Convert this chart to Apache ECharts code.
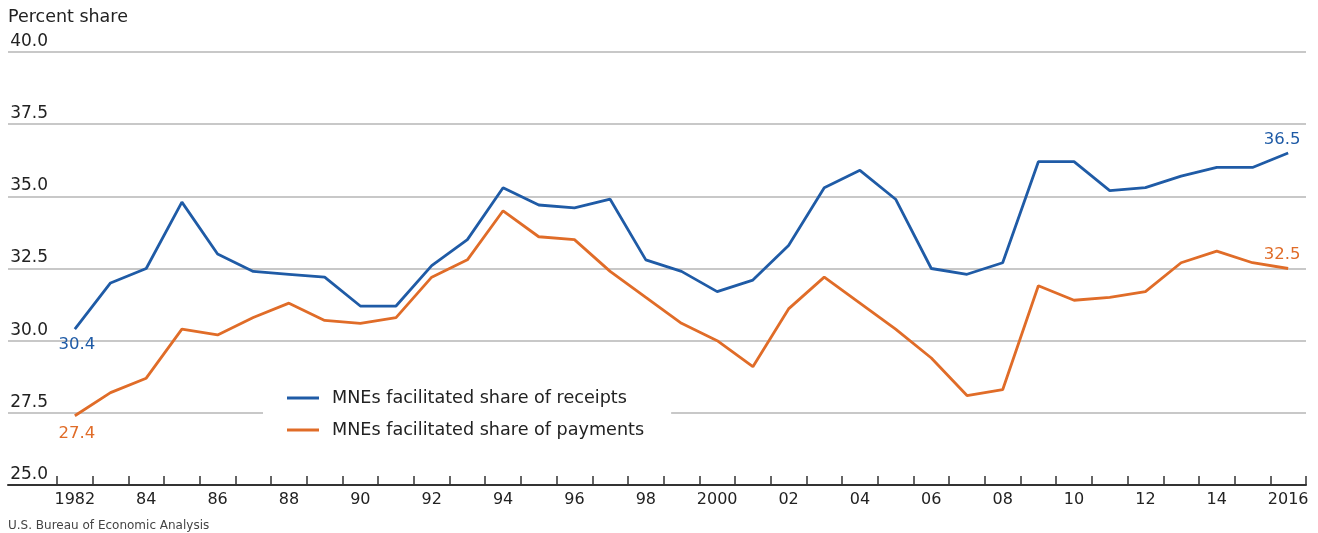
<!DOCTYPE html>
<html>
<head>
<meta charset="utf-8">
<script src="https://cdn.jsdelivr.net/npm/echarts@6/dist/echarts.min.js"></script>
<style>
html,body{margin:0;padding:0;background:#fff;}
#c{width:1318px;height:533px;}
</style>
</head>
<body>
<div id="c"></div>
<script>
const years = [1982,1983,1984,1985,1986,1987,1988,1989,1990,1991,1992,1993,1994,1995,1996,1997,1998,1999,2000,2001,2002,2003,2004,2005,2006,2007,2008,2009,2010,2011,2012,2013,2014,2015,2016];
const receipts = [30.4,32.0,32.5,34.8,33.0,32.4,32.3,32.2,31.2,31.2,32.6,33.5,35.3,34.7,34.6,34.9,32.8,32.4,31.7,32.1,33.3,35.3,35.9,34.9,32.5,32.3,32.7,36.2,36.2,35.2,35.3,35.7,36.0,36.0,36.5];
const payments = [27.4,28.2,28.7,30.4,30.2,30.8,31.3,30.7,30.6,30.8,32.2,32.8,34.5,33.6,33.5,32.4,31.5,30.6,30.0,29.1,31.1,32.2,31.3,30.4,29.4,28.1,28.3,31.9,31.4,31.5,31.7,32.7,33.1,32.7,32.5];
const seriesNames = ['MNEs facilitated share of receipts','MNEs facilitated share of payments'];
const yTicks = [25, 40, 2.5];

const FONT = 'DejaVu Sans';
const BLUE = '#1f5ba6';
const ORANGE = '#e06c28';

function withEndLabels(arr, color, firstOff, lastOff) {
  return arr.map((v, i) => {
    if (i === 0 || i === arr.length - 1) {
      const first = i === 0;
      return {
        value: v,
        label: {
          show: true,
          formatter: v.toFixed(1),
          position: first ? 'bottom' : 'top',
          offset: first ? firstOff : lastOff,
          color: color,
          fontFamily: FONT,
          fontSize: 16.5
        }
      };
    }
    return v;
  });
}

const chart = echarts.init(document.getElementById('c'));
chart.setOption({
  animation: false,
  backgroundColor: '#fff',
  title: [
    {text: 'Percent share', left: 3, top: 3, textStyle: {fontFamily: FONT, fontSize: 17.5, fontWeight: 'normal', color: '#222'}},
    {text: 'U.S. Bureau of Economic Analysis', left: 3, top: 515, textStyle: {fontFamily: FONT, fontSize: 12, fontWeight: 'normal', color: '#444'}}
  ],
  legend: {
    orient: 'vertical',
    left: 263,
    top: 381,
    backgroundColor: '#fff',
    padding: [8, 27, 8, 24],
    itemGap: 14,
    itemWidth: 32,
    itemHeight: 3,
    icon: 'rect',
    textStyle: {fontFamily: FONT, fontSize: 17.6, color: '#222', padding: [0, 0, 0, 8]},
    data: seriesNames
  },
  grid: [
    {left: 8, right: 12, top: 52, bottom: 48},
    {left: 57, right: 12, top: 52, bottom: 48}
  ],
  xAxis: [
    {
      gridIndex: 0, type: 'value', min: 0, max: 1,
      axisLine: {show: true, lineStyle: {color: '#333', width: 2}},
      axisTick: {show: false}, axisLabel: {show: false}, splitLine: {show: false}
    },
    {
      gridIndex: 1, type: 'category', data: years, boundaryGap: true,
      axisLine: {show: false},
      axisTick: {show: true, inside: true, length: 9, interval: 0, lineStyle: {color: '#333', width: 1.5}},
      axisLabel: {
        interval: 1, margin: 7, color: '#222', fontFamily: FONT, fontSize: 16,
        formatter: function (v) {
          const y = +v;
          if (y === 1982 || y === 2000 || y === 2016) return String(y);
          return String(y).slice(2);
        }
      },
      splitLine: {show: false}
    }
  ],
  yAxis: [
    {
      gridIndex: 0, type: 'value', min: yTicks[0], max: yTicks[1], interval: yTicks[2],
      axisLine: {show: false}, axisTick: {show: false},
      axisLabel: {
        inside: true, align: 'right', verticalAlign: 'bottom', margin: 40,
        color: '#222', fontFamily: FONT, fontSize: 17, padding: [0, 0, 2, 0],
        formatter: v => v.toFixed(1)
      },
      splitLine: {show: true, lineStyle: {color: '#c8c8c8', width: 2}}
    },
    {
      gridIndex: 1, type: 'value', min: yTicks[0], max: yTicks[1], interval: yTicks[2], show: false,
      splitLine: {show: false}
    }
  ],
  series: [
    {
      name: seriesNames[0], type: 'line', xAxisIndex: 1, yAxisIndex: 1,
      symbol: 'circle', symbolSize: 0, showSymbol: true, color: BLUE, lineStyle: {width: 2.8, color: BLUE},
      data: withEndLabels(receipts, BLUE, [2, 2], [-6, 0])
    },
    {
      name: seriesNames[1], type: 'line', xAxisIndex: 1, yAxisIndex: 1,
      symbol: 'circle', symbolSize: 0, showSymbol: true, color: ORANGE, lineStyle: {width: 2.8, color: ORANGE},
      data: withEndLabels(payments, ORANGE, [2, 4], [-6, 0])
    }
  ]
});
</script>
</body>
</html>
